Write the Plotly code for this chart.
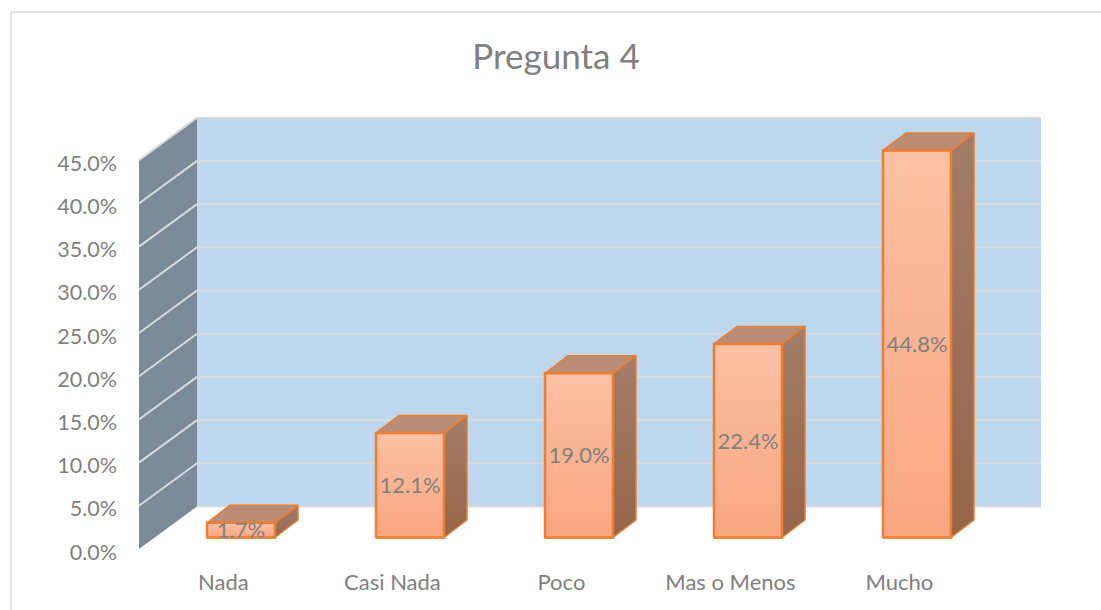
import plotly.graph_objects as go

categories = ["Nada", "Casi Nada", "Poco", "Mas o Menos", "Mucho"]
values = [0.017, 0.121, 0.190, 0.224, 0.448]
y_ticks = [0.0, 0.05, 0.10, 0.15, 0.20, 0.25, 0.30, 0.35, 0.40, 0.45]

W, H = 1101, 610
L, R, T, B = 139, 1041, 117, 549
PITCH = 169.0
PX_PER_UNIT = 864.0
X_MIN = (L - 241) / PITCH
X_MAX = (R - 241) / PITCH
BAR_W = 68 / PITCH
BASE = 11.5 / PX_PER_UNIT
DX = 23 / PITCH
DY = 17.5 / PX_PER_UNIT
WALL_X = X_MIN + 58 / PITCH
WALL_DY = 42.5 / PX_PER_UNIT
LABEL_DROP = 2.5 / PX_PER_UNIT
ORANGE = "#ed7d31"
GREY = "#d9d9d9"
TEXT = "#808080"
FONT = "Lato"

idx = list(range(len(categories)))
fig = go.Figure()

fig.add_trace(go.Bar(x=idx, y=values, base=[BASE] * len(values), width=BAR_W,
                     marker=dict(color="#fab491", line=dict(color=ORANGE, width=2)),
                     hoverinfo="skip"))


def poly(xs, ys, line_w, **kw):
    fig.add_trace(go.Scatter(x=xs, y=ys, mode="lines", fill="toself",
                             line=dict(color=ORANGE, width=line_w),
                             hoverinfo="skip", **kw))


for i, v in zip(idx, values):
    x0, x1 = i - BAR_W / 2, i + BAR_W / 2
    y0, y1 = BASE, BASE + v
    # side face
    poly([x1, x1 + DX, x1 + DX, x1, x1], [y0, y0 + DY, y1 + DY, y1, y0], 1.5,
         fillgradient=dict(type="vertical",
                           colorscale=[[0, "#96654a"], [1, "#a37d68"]]))
    # top face
    poly([x0, x0 + DX, x1 + DX, x1, x0], [y1, y1 + DY, y1 + DY, y1, y1], 1.5,
         fillcolor="#bb8d76")
    # front face
    poly([x0, x1, x1, x0, x0], [y0, y0, y1, y1, y0], 2.5,
         fillgradient=dict(type="vertical",
                           colorscale=[[0, "#f9a680"], [1, "#fbc0a4"]]))

fig.add_trace(go.Scatter(x=idx, y=[BASE + v / 2 - LABEL_DROP for v in values], mode="text",
                         text=[f"{v * 100:.1f}%" for v in values],
                         textposition="middle center",
                         textfont=dict(family=FONT, size=22, color=TEXT),
                         hoverinfo="skip"))

shapes = [
    # back wall
    dict(type="rect", xref="x", yref="y", x0=WALL_X, x1=X_MAX, y0=WALL_DY, y1=0.5,
         fillcolor="#bdd7ee", line=dict(width=0), layer="below"),
    # side wall
    dict(type="path", xref="x", yref="y", layer="below", fillcolor="#7a8a99",
         line=dict(width=0),
         path=f"M {X_MIN} 0 L {WALL_X} {WALL_DY} L {WALL_X} 0.5 L {X_MIN} 0.45 Z"),
    # chart frame
    dict(type="line", xref="paper", yref="paper", x0=(11 - L) / (R - L), x1=(W - L) / (R - L),
         y0=(B - 12) / (B - T), y1=(B - 12) / (B - T), line=dict(color=GREY, width=1.5)),
    dict(type="line", xref="paper", yref="paper", x0=(11 - L) / (R - L), x1=(11 - L) / (R - L),
         y0=(B - 12) / (B - T), y1=(B - H) / (B - T), line=dict(color=GREY, width=1.5)),
]
for t in y_ticks:
    shapes.append(dict(type="line", xref="x", yref="y", x0=WALL_X, x1=X_MAX,
                       y0=t + WALL_DY, y1=t + WALL_DY,
                       line=dict(color=GREY, width=2), layer="below"))
    if t > 0:
        shapes.append(dict(type="line", xref="x", yref="y", x0=X_MIN, x1=WALL_X,
                           y0=t, y1=t + WALL_DY,
                           line=dict(color=GREY, width=2), layer="below"))

fig.update_layout(
    width=W, height=H, autosize=False,
    margin=dict(l=L, r=W - R, t=T, b=H - B, pad=0),
    paper_bgcolor="white", plot_bgcolor="rgba(0,0,0,0)",
    showlegend=False, hovermode=False, shapes=shapes,
    title=dict(text="Pregunta 4", x=(556 / W), xanchor="center", y=1 - 57 / H, yanchor="middle",
               font=dict(family=FONT, size=35, color="#808080")),
    font=dict(family=FONT, color=TEXT),
    xaxis=dict(range=[X_MIN, X_MAX], tickvals=[i - 0.104 for i in idx], ticktext=categories,
               showgrid=False, zeroline=False, showline=False, ticks="",
               tickfont=dict(family=FONT, size=22, color=TEXT),
               ticklabelstandoff=18),
    yaxis=dict(range=[0, 0.5], tickvals=y_ticks, tickformat=".1%",
               showgrid=False, zeroline=False, showline=False, ticks="",
               tickfont=dict(family=FONT, size=21.5, color=TEXT),
               ticklabelstandoff=21, ticklabelshift=3),
)

fig.write_html("out.html", post_script="document.body.style.margin='0';", config={"displayModeBar": False})
